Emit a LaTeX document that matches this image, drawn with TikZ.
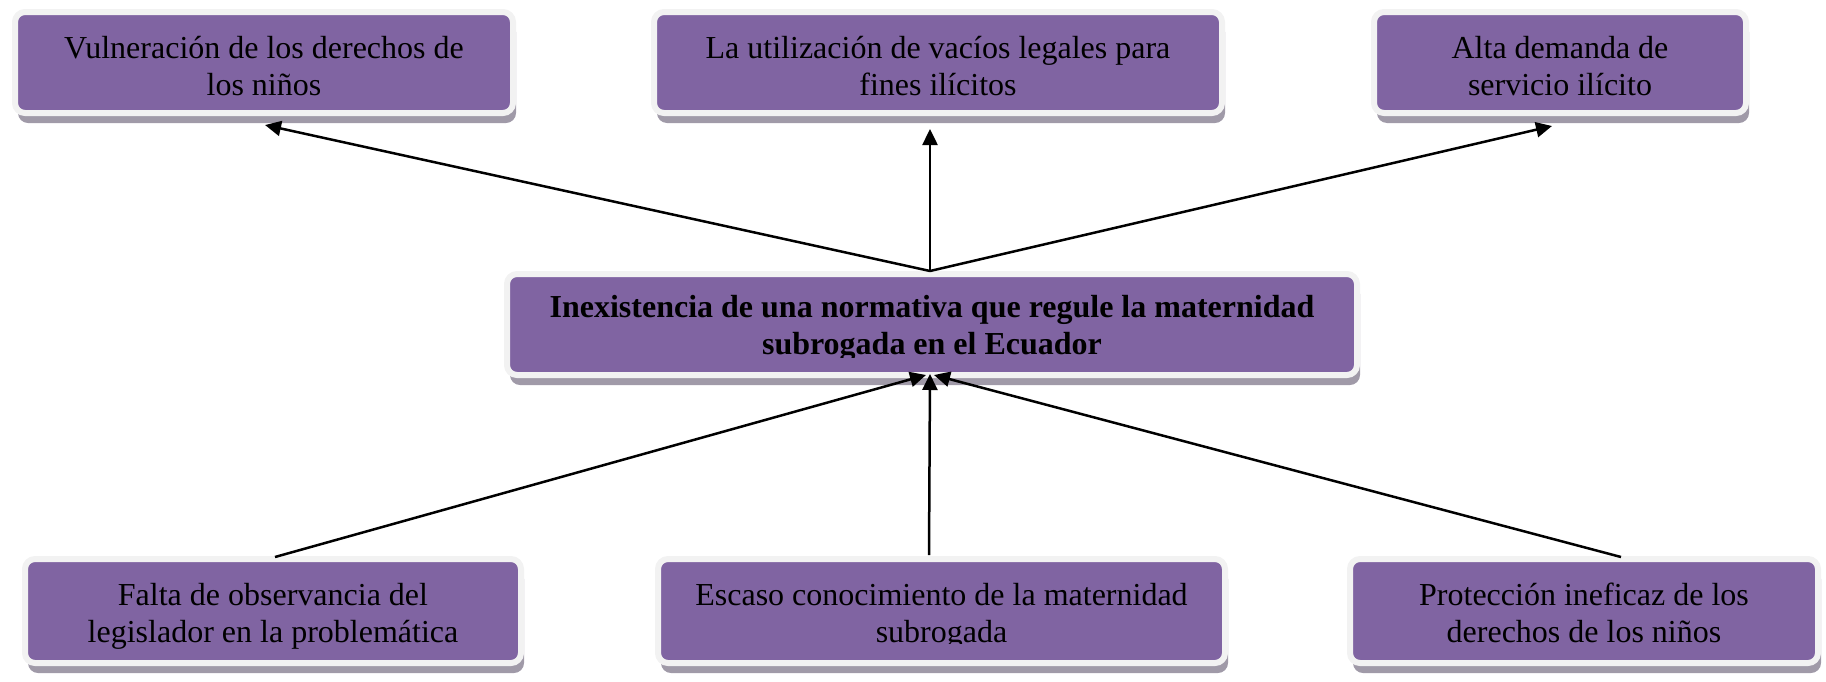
\documentclass[tikz,border=0pt]{standalone}
\usepackage{fontspec}
\setmainfont{Liberation Serif}
\usetikzlibrary{arrows.meta,shadows}
\definecolor{boxpurple}{HTML}{8064A2}
\definecolor{boxrim}{HTML}{F2F2F2}
\definecolor{boxshadow}{HTML}{A09AA8}
\tikzset{
  pbox/.style={draw=boxrim, line width=3pt, fill=boxpurple, rounded corners=5pt,
    inner sep=0pt, minimum height=50.5pt,
    drop shadow={shadow xshift=1.5pt, shadow yshift=-5pt, fill=boxshadow, opacity=1}},
  ptext/.style={anchor=north, inner sep=0pt, align=center,
    font=\fontsize{16}{18.5}\selectfont, text=black},
  btext/.style={ptext, font=\fontsize{16}{18.5}\selectfont\bfseries},
  conn/.style={line width=1.25pt, -{Triangle[length=8pt,width=7.5pt]}}
}
\begin{document}
\begin{tikzpicture}[x=0.5pt,y=-0.5pt]
\useasboundingbox (0,0) rectangle (1826,681);

% boxes
\node[pbox, minimum width=249pt] (tl) at (264,62.5) {};
\node[pbox, minimum width=284pt] (tm) at (938,62.5) {};
\node[pbox, minimum width=186pt] (tr) at (1560,62.5) {};
\node[pbox, minimum width=425pt] (c) at (932,324.5) {};
\node[pbox, minimum width=248pt, minimum height=52pt] (bl) at (273,611) {};
\node[pbox, minimum width=283.5pt, minimum height=52pt] (bm) at (941.5,611) {};
\node[pbox, minimum width=234pt, minimum height=52pt] (br) at (1584,611) {};

% texts
\node[ptext] (tl-t) at (264,36) {Vulneración de los derechos de\\los niños};
\node[ptext] (tm-t) at (938,36) {La utilización de vacíos legales para\\fines ilícitos};
\node[ptext] (tr-t) at (1560,36) {Alta demanda de\\servicio ilícito};
\begin{scope}
  \clip (510,277) rectangle (1354,357);
  \node[btext] (c-t) at (932,295) {Inexistencia de una normativa que regule la maternidad\\subrogada en el Ecuador};
\end{scope}
\node[ptext] (bl-t) at (273,583) {Falta de observancia del\\legislador en la problemática};
\begin{scope}
  \clip (661,562) rectangle (1222,643);
  \node[ptext] (bm-t) at (941.5,583) {Escaso conocimiento de la maternidad\\subrogada};
\end{scope}
\begin{scope}
  \clip (1353,562) rectangle (1815,643);
  \node[ptext] (br-t) at (1584,583) {Protección ineficaz de los\\derechos de los niños};
\end{scope}

% connector end points
\coordinate (ctop) at (930,271);
\coordinate (tl-in) at (265,125);
\coordinate (tm-in) at (930,129);
\coordinate (tr-in) at (1552,126);
\coordinate (bl-out) at (275,557);
\coordinate (bm-out) at (929,555);
\coordinate (br-out) at (1621,557);
\coordinate (cin-l) at (926,375);
\coordinate (cin-m) at (930,374);
\coordinate (cin-r) at (934,375);

% connectors
\draw[conn] (ctop) -- (tl-in);
\draw[conn] (ctop) -- (tm-in);
\draw[conn] (ctop) -- (tr-in);
\draw[conn] (bl-out) -- (cin-l);
\draw[conn] (bm-out) -- (cin-m);
\draw[conn] (br-out) -- (cin-r);
\end{tikzpicture}
\end{document}
